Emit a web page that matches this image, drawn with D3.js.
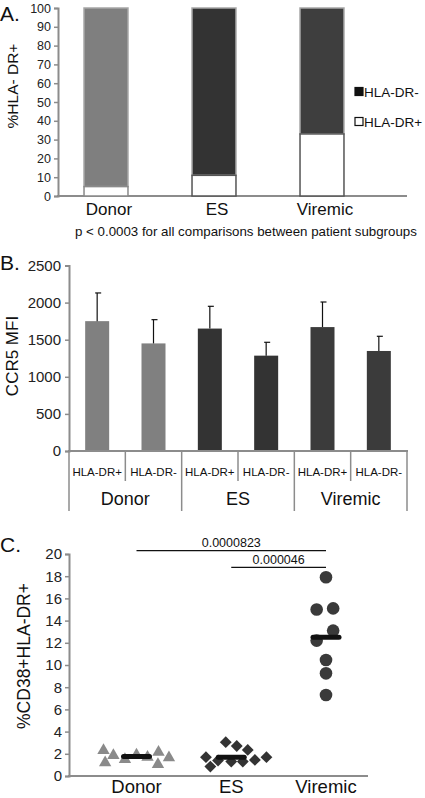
<!DOCTYPE html>
<html><head><meta charset="utf-8">
<script src="https://cdn.jsdelivr.net/npm/d3@7"></script>
<style>body{margin:0;background:#fff}svg{display:block;font-family:"Liberation Sans",Arial,sans-serif}</style>
</head><body><svg id="c" width="425" height="798"></svg>
<script>
// ---------- DATA ----------
const groups = ["Donor", "ES", "Viremic"];
// Panel A: % HLA-DR+ (white) and HLA-DR- (remainder)
const pctDRpos = [5, 11, 33];
const pctTotal = [100, 100, 100];
const yTicksA = [0,10,20,30,40,50,60,70,80,90,100];
const legendA = ["HLA-DR-", "HLA-DR+"];
const pNoteA = "p < 0.0003 for all comparisons between patient subgroups";
// Panel B: CCR5 MFI
const subCats = ["HLA-DR+", "HLA-DR-"];
const mfiMean = [1750, 1450, 1650, 1285, 1670, 1348];
const mfiErr  = [2130, 1770, 1950, 1465, 2008, 1546];
const yTicksB = [0,500,1000,1500,2000,2500];
// Panel C: %CD38+HLA-DR+
const donorVals = [2.3, 1.2, 1.85, 1.5, 1.9, 1.7, 2.15, 1.05, 1.65];
const donorJitter = [-3, -2.85, -2.1, -1.05, 0, 1, 2, 1.95, 2.95];
const esVals = [1.7, 0.85, 1.4, 3.05, 1.3, 2.7, 1.3, 2.35, 1.45, 1.7];
const esJitter = [-2.3, -1.9, -1.2, -0.5, 0, 0.5, 1.05, 1.5, 2.15, 3.2];
const viremicVals = [17.9, 15.0, 15.1, 13.1, 12.2, 10.45, 9.25, 7.3];
const viremicJitter = [0, -0.85, 0.65, 0.65, -0.85, 0, 0, 0];
const medians = [1.75, 1.7, 12.5];
const yTicksC = [0,2,4,6,8,10,12,14,16,18,20];
const comparisons = [
  {from: "Donor", to: "Viremic", label: "0.0000823"},
  {from: "ES", to: "Viremic", label: "0.000046"}
];

// ---------- DRAW ----------
const svg = d3.select("#c");
const FONT = "Liberation Sans, Arial, sans-serif";
const axisCol = "#8c8c8c";
const groupColA = ["#7f7f7f", "#333333", "#3e3e3e"];
const groupColB = ["#808080", "#333333", "#3b3b3b"];

function styleAxis(ax, fs) {
  ax.attr("font-family", FONT);
  ax.select(".domain").attr("stroke", axisCol).attr("stroke-width", 2);
  ax.selectAll(".tick line").attr("stroke", axisCol).attr("stroke-width", 1.5);
  ax.selectAll(".tick text").attr("font-size", fs).attr("fill", "#222");
}

// ===== Panel A =====
const A = svg.append("g");
const xA = d3.scaleBand().domain(groups).range([52, 376]).paddingInner(0.593).paddingOuter(0.2965);
const yA = d3.scaleLinear().domain([0, 100]).range([196, 8]);
A.append("text").attr("x", 0).attr("y", 21).attr("font-size", 21).attr("fill", "#111").text("A.");
const axA = A.append("g").attr("transform", "translate(58,0)")
  .call(d3.axisLeft(yA).tickValues(yTicksA).tickFormat(d3.format("d")).tickSize(4).tickPadding(3));
styleAxis(axA, 12.5);
A.append("line").attr("x1", 57).attr("x2", 407).attr("y1", yA(0)).attr("y2", yA(0)).attr("stroke", axisCol).attr("stroke-width", 2);
groups.forEach((g, i) => {
  A.append("rect").attr("x", xA(g)).attr("width", xA.bandwidth())
    .attr("y", yA(pctTotal[i])).attr("height", yA(pctDRpos[i]) - yA(pctTotal[i]))
    .attr("fill", groupColA[i]).attr("stroke", "#a6a6a6").attr("stroke-width", 1.5);
  A.append("rect").attr("x", xA(g)).attr("width", xA.bandwidth())
    .attr("y", yA(pctDRpos[i])).attr("height", yA(0) - yA(pctDRpos[i]))
    .attr("fill", "#fff").attr("stroke", i === 0 ? "#8a8a8a" : "#555").attr("stroke-width", 1.5);
  A.append("text").attr("x", xA(g) + xA.bandwidth() / 2 + 3).attr("y", 215)
    .attr("text-anchor", "middle").attr("font-size", 17).attr("fill", "#111").text(g);
});
A.append("text").attr("transform", "translate(18,86) rotate(-90)").attr("text-anchor", "middle")
  .attr("font-size", 15.5).attr("fill", "#111").text("%HLA- DR+");
A.append("text").attr("x", 75).attr("y", 236).attr("font-size", 13.3).attr("fill", "#111").text(pNoteA);
const legY = [92, 122];
legendA.forEach((t, i) => {
  A.append("rect").attr("x", 355).attr("y", legY[i] - 4.5).attr("width", 8).attr("height", 8)
    .attr("fill", i === 0 ? "#111" : "#fff").attr("stroke", "#111").attr("stroke-width", 1.2);
  A.append("text").attr("x", 364).attr("y", legY[i] + 5).attr("font-size", 13.5).attr("fill", "#111").text(t);
});

// ===== Panel B =====
const B = svg.append("g");
const barKeys = [];
groups.forEach(g => subCats.forEach(s => barKeys.push(g + "|" + s)));
const xB = d3.scaleBand().domain(barKeys).range([69, 407]).paddingInner(0.574).paddingOuter(0.287);
const yB = d3.scaleLinear().domain([0, 2500]).range([451, 265.5]);
B.append("text").attr("x", 0).attr("y", 270).attr("font-size", 21).attr("fill", "#111").text("B.");
const axB = B.append("g").attr("transform", "translate(69,0)")
  .call(d3.axisLeft(yB).tickValues(yTicksB).tickFormat(d3.format("d")).tickSize(4).tickPadding(4));
styleAxis(axB, 15);
B.append("text").attr("transform", "translate(18,356) rotate(-90)").attr("text-anchor", "middle")
  .attr("font-size", 17).attr("fill", "#111").text("CCR5 MFI");
barKeys.forEach((k, i) => {
  const gi = Math.floor(i / 2);
  const cx = xB(k) + xB.bandwidth() / 2;
  B.append("rect").attr("x", xB(k)).attr("width", xB.bandwidth())
    .attr("y", yB(mfiMean[i])).attr("height", yB(0) - yB(mfiMean[i])).attr("fill", groupColB[gi]);
  B.append("line").attr("x1", cx).attr("x2", cx).attr("y1", yB(mfiMean[i])).attr("y2", yB(mfiErr[i]))
    .attr("stroke", "#111").attr("stroke-width", 1.2);
  B.append("line").attr("x1", cx - 2).attr("x2", cx + 4).attr("y1", yB(mfiErr[i])).attr("y2", yB(mfiErr[i]))
    .attr("stroke", "#111").attr("stroke-width", 1.2);
  B.append("text").attr("x", cx).attr("y", 476).attr("text-anchor", "middle")
    .attr("font-size", 11.5).attr("fill", "#111").text(k.split("|")[1]);
});
B.append("line").attr("x1", 68).attr("x2", 408).attr("y1", yB(0)).attr("y2", yB(0)).attr("stroke", axisCol).attr("stroke-width", 2);
const step = xB.step();
for (let i = 0; i <= barKeys.length; i++) {
  const x = 69 + i * step;
  B.append("line").attr("x1", x).attr("x2", x).attr("y1", yB(0)).attr("y2", i % 2 === 0 ? 511 : 481)
    .attr("stroke", axisCol).attr("stroke-width", 1.5);
}
groups.forEach((g, i) => {
  B.append("text").attr("x", 69 + step * (2 * i + 1)).attr("y", 505).attr("text-anchor", "middle")
    .attr("font-size", 18).attr("fill", "#111").text(g);
});

// ===== Panel C =====
const C = svg.append("g");
const xC = d3.scalePoint().domain(groups).range([136.5, 326]);
const yC = d3.scaleLinear().domain([0, 20]).range([776, 554]);
C.append("text").attr("x", 0).attr("y", 552).attr("font-size", 21).attr("fill", "#111").text("C.");
const axC = C.append("g").attr("transform", "translate(69,0)")
  .call(d3.axisLeft(yC).tickValues(yTicksC).tickFormat(d3.format("d")).tickSize(4).tickPadding(3));
styleAxis(axC, 15);
C.append("line").attr("x1", 68).attr("x2", 368).attr("y1", yC(0)).attr("y2", yC(0)).attr("stroke", axisCol).attr("stroke-width", 2);
C.append("text").attr("transform", "translate(30,656) rotate(-90)").attr("text-anchor", "middle")
  .attr("font-size", 17.5).attr("fill", "#111").text("%CD38+HLA-DR+");
groups.forEach(g => {
  C.append("text").attr("x", xC(g)).attr("y", 793).attr("text-anchor", "middle")
    .attr("font-size", 18.5).attr("fill", "#111").text(g);
});
const tri = d3.symbol().type(d3.symbolTriangle).size(66);
const dia = d3.symbol().type(d3.symbolSquare).size(70);
donorVals.forEach((v, i) => {
  C.append("path").attr("d", tri).attr("fill", "#8a8a8a")
    .attr("transform", `translate(${xC("Donor") + donorJitter[i] * 11},${yC(v)})`);
});
esVals.forEach((v, i) => {
  C.append("path").attr("d", dia).attr("fill", "#333")
    .attr("transform", `translate(${xC("ES") + esJitter[i] * 11},${yC(v)}) rotate(45)`);
});
viremicVals.forEach((v, i) => {
  C.append("circle").attr("cx", xC("Viremic") + viremicJitter[i] * 11).attr("cy", yC(v)).attr("r", 6.3).attr("fill", "#3a3a3a");
});
groups.forEach((g, i) => {
  C.append("line").attr("x1", xC(g) - 13).attr("x2", xC(g) + 13).attr("y1", yC(medians[i])).attr("y2", yC(medians[i]))
    .attr("stroke", "#111").attr("stroke-width", 5).attr("stroke-linecap", "round");
});
const brY = [550.7, 567.3];
comparisons.forEach((c, i) => {
  const x1 = xC(c.from), x2 = xC(c.to);
  C.append("line").attr("x1", x1).attr("x2", x2).attr("y1", brY[i]).attr("y2", brY[i]).attr("stroke", "#111").attr("stroke-width", 1.3);
  C.append("text").attr("x", (x1 + x2) / 2).attr("y", brY[i] - 3.5).attr("text-anchor", "middle")
    .attr("font-size", 12.5).attr("fill", "#111").text(c.label);
});
</script></body></html>
